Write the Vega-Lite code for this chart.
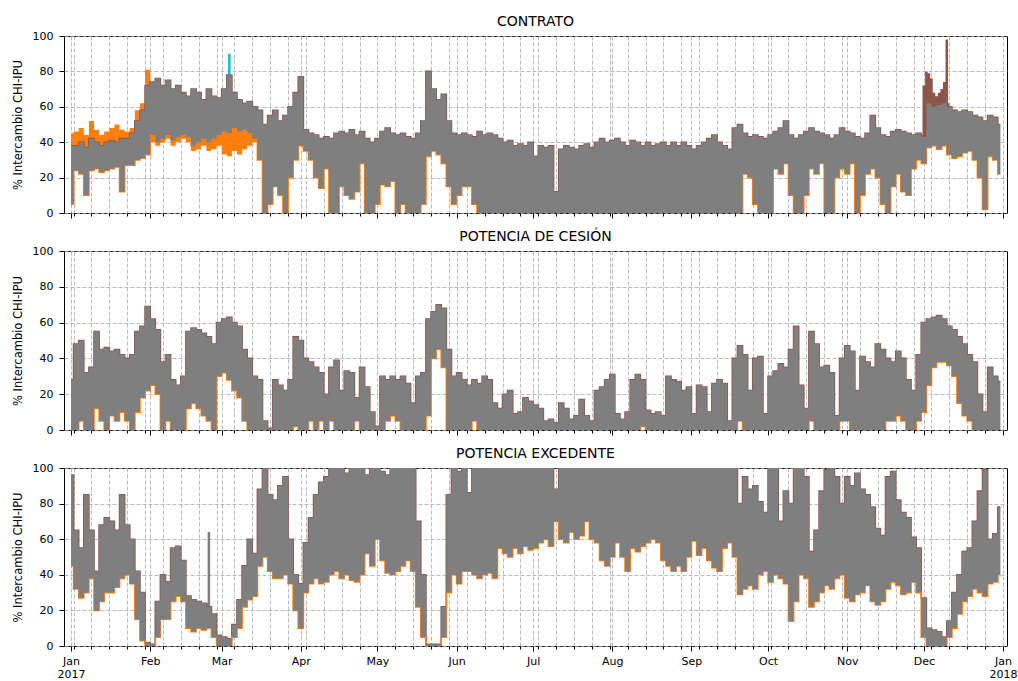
{
"$schema": "https://vega.github.io/schema/vega-lite/v6.json",
"background": "white",
"padding": {"left": 11, "top": 14, "right": 5, "bottom": 5},
"spacing": 10,
"config": {
 "font": "DejaVu Sans",
 "view": {"stroke": "#000", "strokeWidth": 1},
 "axis": {"labelFont": "DejaVu Sans", "labelFontSize": 11, "labelColor": "#000", "tickColor": "#000", "domain": false, "grid": true, "gridColor": "#a8a8a8", "gridDash": [4, 2], "gridWidth": 0.8, "titleFont": "DejaVu Sans", "titleFontSize": 11.5, "titleFontWeight": "normal", "titleColor": "#000"},
 "title": {"font": "DejaVu Sans", "fontSize": 14, "fontWeight": "normal", "color": "#000", "offset": 1}
},
"datasets": {
"main": [
{"d":"2017-01-01","a":5,"b":38,"c":0,"e":28,"f":45,"g":96},
{"d":"2017-01-03","a":24,"b":38,"c":0,"e":48,"f":32,"g":65},
{"d":"2017-01-05","a":22,"b":40,"c":5,"e":50,"f":27,"g":55},
{"d":"2017-01-07","a":10,"b":37,"c":0,"e":32,"f":30,"g":85},
{"d":"2017-01-09","a":24,"b":42,"c":0,"e":35,"f":38,"g":65},
{"d":"2017-01-11","a":25,"b":40,"c":12,"e":55,"f":20,"g":42},
{"d":"2017-01-13","a":23,"b":38,"c":5,"e":45,"f":25,"g":68},
{"d":"2017-01-15","a":24,"b":40,"c":0,"e":46,"f":30,"g":72},
{"d":"2017-01-17","a":25,"b":41,"c":8,"e":44,"f":30,"g":70},
{"d":"2017-01-19","a":26,"b":40,"c":5,"e":45,"f":33,"g":65},
{"d":"2017-01-21","a":12,"b":42,"c":10,"e":42,"f":38,"g":85},
{"d":"2017-01-23","a":27,"b":42,"c":5,"e":40,"f":40,"g":68},
{"d":"2017-01-25","a":27,"b":45,"c":0,"e":42,"f":35,"g":60},
{"d":"2017-01-27","a":30,"b":52,"c":10,"e":55,"f":15,"g":42},
{"d":"2017-01-29","a":31,"b":58,"c":18,"e":58,"f":3,"g":30},
{"d":"2017-01-31","a":33,"b":72,"c":22,"e":69,"f":0,"g":2},
{"d":"2017-02-02","a":44,"b":74,"c":25,"e":62,"f":0,"g":1},
{"d":"2017-02-04","a":40,"b":76,"c":20,"e":56,"f":5,"g":25},
{"d":"2017-02-06","a":42,"b":72,"c":0,"e":38,"f":15,"g":40},
{"d":"2017-02-08","a":44,"b":75,"c":5,"e":42,"f":15,"g":36},
{"d":"2017-02-10","a":41,"b":70,"c":0,"e":28,"f":25,"g":55},
{"d":"2017-02-12","a":43,"b":72,"c":0,"e":25,"f":28,"g":56},
{"d":"2017-02-14","a":44,"b":68,"c":0,"e":30,"f":25,"g":48},
{"d":"2017-02-16","a":43,"b":66,"c":12,"e":55,"f":10,"g":28},
{"d":"2017-02-18","a":38,"b":70,"c":15,"e":57,"f":8,"g":26},
{"d":"2017-02-20","a":40,"b":68,"c":12,"e":56,"f":10,"g":25},
{"d":"2017-02-22","a":42,"b":64,"c":8,"e":54,"f":9,"g":24},
{"d":"2017-02-24","a":40,"b":70,"c":5,"e":52,"f":10,"g":22},
{"d":"2017-02-26","a":42,"b":66,"c":0,"e":48,"f":5,"g":18},
{"d":"2017-02-28","a":44,"b":65,"c":30,"e":60,"f":0,"g":6},
{"d":"2017-03-02","a":46,"b":70,"c":32,"e":62,"f":0,"g":5},
{"d":"2017-03-04","a":45,"b":78,"c":28,"e":63,"f":0,"g":4},
{"d":"2017-03-06","a":48,"b":68,"c":22,"e":60,"f":5,"g":12},
{"d":"2017-03-08","a":46,"b":64,"c":18,"e":58,"f":10,"g":26},
{"d":"2017-03-10","a":47,"b":62,"c":5,"e":45,"f":22,"g":45},
{"d":"2017-03-12","a":45,"b":63,"c":0,"e":40,"f":26,"g":60},
{"d":"2017-03-14","a":42,"b":60,"c":0,"e":30,"f":28,"g":52},
{"d":"2017-03-16","a":30,"b":58,"c":0,"e":28,"f":45,"g":88},
{"d":"2017-03-18","a":0,"b":50,"c":0,"e":5,"f":50,"g":100},
{"d":"2017-03-20","a":5,"b":55,"c":0,"e":1,"f":42,"g":85},
{"d":"2017-03-22","a":15,"b":58,"c":0,"e":28,"f":38,"g":82},
{"d":"2017-03-24","a":10,"b":52,"c":0,"e":25,"f":38,"g":90},
{"d":"2017-03-26","a":0,"b":55,"c":0,"e":22,"f":40,"g":95},
{"d":"2017-03-28","a":20,"b":60,"c":0,"e":28,"f":35,"g":60},
{"d":"2017-03-30","a":30,"b":68,"c":2,"e":52,"f":20,"g":40},
{"d":"2017-04-01","a":38,"b":77,"c":0,"e":50,"f":10,"g":35},
{"d":"2017-04-03","a":35,"b":47,"c":0,"e":40,"f":30,"g":58},
{"d":"2017-04-05","a":30,"b":45,"c":5,"e":38,"f":35,"g":72},
{"d":"2017-04-07","a":20,"b":44,"c":0,"e":35,"f":38,"g":85},
{"d":"2017-04-09","a":14,"b":42,"c":5,"e":32,"f":35,"g":92},
{"d":"2017-04-11","a":25,"b":43,"c":0,"e":20,"f":36,"g":95},
{"d":"2017-04-13","a":0,"b":42,"c":5,"e":35,"f":40,"g":100},
{"d":"2017-04-15","a":0,"b":45,"c":0,"e":39,"f":42,"g":100},
{"d":"2017-04-17","a":15,"b":46,"c":0,"e":22,"f":38,"g":100},
{"d":"2017-04-19","a":10,"b":45,"c":0,"e":33,"f":40,"g":97},
{"d":"2017-04-21","a":8,"b":47,"c":0,"e":32,"f":37,"g":100},
{"d":"2017-04-23","a":12,"b":44,"c":5,"e":18,"f":36,"g":100},
{"d":"2017-04-25","a":28,"b":46,"c":0,"e":35,"f":40,"g":100},
{"d":"2017-04-27","a":0,"b":42,"c":0,"e":24,"f":52,"g":96},
{"d":"2017-04-29","a":0,"b":40,"c":0,"e":10,"f":45,"g":100},
{"d":"2017-05-01","a":5,"b":42,"c":0,"e":2,"f":60,"g":100},
{"d":"2017-05-03","a":16,"b":46,"c":0,"e":30,"f":48,"g":98},
{"d":"2017-05-05","a":15,"b":48,"c":5,"e":28,"f":41,"g":96},
{"d":"2017-05-07","a":18,"b":45,"c":8,"e":30,"f":40,"g":100},
{"d":"2017-05-09","a":0,"b":44,"c":5,"e":28,"f":42,"g":100},
{"d":"2017-05-11","a":5,"b":45,"c":0,"e":30,"f":45,"g":100},
{"d":"2017-05-13","a":0,"b":43,"c":0,"e":26,"f":48,"g":100},
{"d":"2017-05-15","a":0,"b":42,"c":0,"e":15,"f":42,"g":100},
{"d":"2017-05-17","a":0,"b":45,"c":0,"e":30,"f":22,"g":70},
{"d":"2017-05-19","a":5,"b":52,"c":0,"e":32,"f":5,"g":40},
{"d":"2017-05-21","a":32,"b":80,"c":8,"e":62,"f":0,"g":1},
{"d":"2017-05-23","a":35,"b":70,"c":40,"e":66,"f":0,"g":1},
{"d":"2017-05-25","a":33,"b":64,"c":45,"e":70,"f":0,"g":1},
{"d":"2017-05-27","a":28,"b":67,"c":35,"e":68,"f":5,"g":22},
{"d":"2017-05-29","a":15,"b":52,"c":0,"e":45,"f":30,"g":85},
{"d":"2017-05-31","a":5,"b":45,"c":0,"e":30,"f":40,"g":100},
{"d":"2017-06-02","a":10,"b":44,"c":0,"e":32,"f":35,"g":98},
{"d":"2017-06-04","a":15,"b":45,"c":0,"e":28,"f":42,"g":100},
{"d":"2017-06-06","a":15,"b":44,"c":0,"e":25,"f":42,"g":86},
{"d":"2017-06-08","a":5,"b":43,"c":5,"e":28,"f":40,"g":100},
{"d":"2017-06-10","a":0,"b":46,"c":0,"e":26,"f":38,"g":100},
{"d":"2017-06-12","a":0,"b":44,"c":0,"e":30,"f":40,"g":100},
{"d":"2017-06-14","a":0,"b":45,"c":0,"e":28,"f":41,"g":100},
{"d":"2017-06-16","a":0,"b":44,"c":0,"e":15,"f":38,"g":100},
{"d":"2017-06-18","a":0,"b":42,"c":0,"e":12,"f":55,"g":100},
{"d":"2017-06-20","a":0,"b":40,"c":0,"e":20,"f":52,"g":100},
{"d":"2017-06-22","a":0,"b":41,"c":0,"e":22,"f":50,"g":100},
{"d":"2017-06-24","a":0,"b":38,"c":0,"e":9,"f":55,"g":100},
{"d":"2017-06-26","a":0,"b":39,"c":0,"e":10,"f":52,"g":100},
{"d":"2017-06-28","a":0,"b":38,"c":0,"e":18,"f":56,"g":100},
{"d":"2017-06-30","a":0,"b":40,"c":0,"e":16,"f":54,"g":100},
{"d":"2017-07-02","a":0,"b":32,"c":0,"e":14,"f":55,"g":100},
{"d":"2017-07-04","a":0,"b":38,"c":0,"e":12,"f":58,"g":100},
{"d":"2017-07-06","a":0,"b":37,"c":0,"e":5,"f":60,"g":100},
{"d":"2017-07-08","a":0,"b":38,"c":0,"e":6,"f":56,"g":100},
{"d":"2017-07-10","a":0,"b":12,"c":0,"e":4,"f":70,"g":88},
{"d":"2017-07-12","a":0,"b":36,"c":0,"e":15,"f":60,"g":100},
{"d":"2017-07-14","a":0,"b":38,"c":0,"e":12,"f":58,"g":100},
{"d":"2017-07-16","a":0,"b":37,"c":0,"e":6,"f":64,"g":100},
{"d":"2017-07-18","a":0,"b":36,"c":0,"e":8,"f":60,"g":100},
{"d":"2017-07-20","a":0,"b":38,"c":0,"e":17,"f":62,"g":100},
{"d":"2017-07-22","a":0,"b":39,"c":0,"e":8,"f":70,"g":100},
{"d":"2017-07-24","a":0,"b":37,"c":0,"e":5,"f":60,"g":100},
{"d":"2017-07-26","a":0,"b":40,"c":0,"e":22,"f":58,"g":100},
{"d":"2017-07-28","a":0,"b":42,"c":0,"e":24,"f":48,"g":100},
{"d":"2017-07-30","a":0,"b":40,"c":0,"e":28,"f":45,"g":100},
{"d":"2017-08-01","a":0,"b":41,"c":0,"e":31,"f":50,"g":100},
{"d":"2017-08-03","a":0,"b":42,"c":0,"e":9,"f":58,"g":100},
{"d":"2017-08-05","a":0,"b":40,"c":0,"e":6,"f":50,"g":100},
{"d":"2017-08-07","a":0,"b":38,"c":0,"e":10,"f":42,"g":100},
{"d":"2017-08-09","a":0,"b":41,"c":0,"e":28,"f":55,"g":100},
{"d":"2017-08-11","a":0,"b":40,"c":0,"e":31,"f":53,"g":100},
{"d":"2017-08-13","a":0,"b":38,"c":2,"e":28,"f":56,"g":100},
{"d":"2017-08-15","a":0,"b":40,"c":0,"e":11,"f":58,"g":100},
{"d":"2017-08-17","a":0,"b":38,"c":0,"e":9,"f":60,"g":100},
{"d":"2017-08-19","a":0,"b":39,"c":0,"e":10,"f":58,"g":100},
{"d":"2017-08-21","a":0,"b":40,"c":0,"e":8,"f":48,"g":100},
{"d":"2017-08-23","a":0,"b":38,"c":0,"e":30,"f":45,"g":100},
{"d":"2017-08-25","a":0,"b":40,"c":0,"e":28,"f":42,"g":100},
{"d":"2017-08-27","a":0,"b":38,"c":0,"e":27,"f":45,"g":100},
{"d":"2017-08-29","a":0,"b":40,"c":0,"e":22,"f":42,"g":100},
{"d":"2017-08-31","a":0,"b":38,"c":0,"e":24,"f":50,"g":100},
{"d":"2017-09-02","a":0,"b":36,"c":0,"e":9,"f":59,"g":100},
{"d":"2017-09-04","a":0,"b":38,"c":0,"e":25,"f":51,"g":100},
{"d":"2017-09-06","a":0,"b":40,"c":0,"e":24,"f":55,"g":100},
{"d":"2017-09-08","a":0,"b":42,"c":0,"e":10,"f":48,"g":100},
{"d":"2017-09-10","a":0,"b":44,"c":0,"e":26,"f":44,"g":100},
{"d":"2017-09-12","a":0,"b":40,"c":0,"e":28,"f":42,"g":100},
{"d":"2017-09-14","a":0,"b":38,"c":0,"e":26,"f":55,"g":100},
{"d":"2017-09-16","a":0,"b":36,"c":0,"e":5,"f":58,"g":100},
{"d":"2017-09-18","a":0,"b":48,"c":0,"e":40,"f":50,"g":100},
{"d":"2017-09-20","a":0,"b":50,"c":5,"e":47,"f":29,"g":80},
{"d":"2017-09-22","a":22,"b":45,"c":0,"e":42,"f":32,"g":95},
{"d":"2017-09-24","a":20,"b":43,"c":0,"e":22,"f":34,"g":88},
{"d":"2017-09-26","a":5,"b":44,"c":0,"e":40,"f":32,"g":90},
{"d":"2017-09-28","a":0,"b":43,"c":0,"e":41,"f":40,"g":81},
{"d":"2017-09-30","a":0,"b":42,"c":0,"e":9,"f":42,"g":75},
{"d":"2017-10-02","a":0,"b":44,"c":0,"e":30,"f":36,"g":100},
{"d":"2017-10-04","a":25,"b":46,"c":0,"e":33,"f":40,"g":100},
{"d":"2017-10-06","a":22,"b":48,"c":0,"e":37,"f":38,"g":70},
{"d":"2017-10-08","a":28,"b":52,"c":0,"e":35,"f":35,"g":87},
{"d":"2017-10-10","a":10,"b":44,"c":0,"e":45,"f":14,"g":80},
{"d":"2017-10-12","a":0,"b":42,"c":0,"e":58,"f":25,"g":100},
{"d":"2017-10-14","a":0,"b":44,"c":0,"e":25,"f":40,"g":100},
{"d":"2017-10-16","a":10,"b":46,"c":0,"e":12,"f":38,"g":95},
{"d":"2017-10-18","a":25,"b":48,"c":5,"e":55,"f":22,"g":53},
{"d":"2017-10-20","a":22,"b":46,"c":0,"e":48,"f":25,"g":65},
{"d":"2017-10-22","a":28,"b":45,"c":0,"e":35,"f":30,"g":87},
{"d":"2017-10-24","a":0,"b":44,"c":0,"e":36,"f":34,"g":99},
{"d":"2017-10-26","a":0,"b":42,"c":0,"e":32,"f":32,"g":100},
{"d":"2017-10-28","a":20,"b":44,"c":0,"e":8,"f":38,"g":95},
{"d":"2017-10-30","a":25,"b":48,"c":5,"e":40,"f":40,"g":80},
{"d":"2017-11-01","a":22,"b":46,"c":5,"e":47,"f":27,"g":95},
{"d":"2017-11-03","a":28,"b":45,"c":0,"e":44,"f":25,"g":90},
{"d":"2017-11-05","a":0,"b":43,"c":0,"e":22,"f":29,"g":97},
{"d":"2017-11-07","a":10,"b":42,"c":0,"e":41,"f":30,"g":88},
{"d":"2017-11-09","a":22,"b":45,"c":0,"e":38,"f":34,"g":85},
{"d":"2017-11-11","a":25,"b":55,"c":0,"e":35,"f":25,"g":78},
{"d":"2017-11-13","a":20,"b":48,"c":0,"e":48,"f":23,"g":66},
{"d":"2017-11-15","a":5,"b":44,"c":0,"e":45,"f":25,"g":62},
{"d":"2017-11-17","a":0,"b":43,"c":5,"e":40,"f":32,"g":95},
{"d":"2017-11-19","a":15,"b":46,"c":5,"e":38,"f":36,"g":98},
{"d":"2017-11-21","a":22,"b":47,"c":8,"e":44,"f":34,"g":82},
{"d":"2017-11-23","a":12,"b":46,"c":5,"e":40,"f":29,"g":75},
{"d":"2017-11-25","a":10,"b":45,"c":0,"e":28,"f":30,"g":72},
{"d":"2017-11-27","a":25,"b":44,"c":0,"e":22,"f":36,"g":61},
{"d":"2017-11-29","a":30,"b":45,"c":5,"e":42,"f":30,"g":55},
{"d":"2017-12-01","a":28,"b":43,"c":10,"e":60,"f":5,"g":27},
{"d":"2017-12-03","a":37,"b":62,"c":25,"e":62,"f":0,"g":10},
{"d":"2017-12-05","a":38,"b":60,"c":35,"e":63,"f":0,"g":9},
{"d":"2017-12-07","a":36,"b":61,"c":38,"e":64,"f":0,"g":8},
{"d":"2017-12-09","a":38,"b":62,"c":38,"e":62,"f":0,"g":5},
{"d":"2017-12-11","a":33,"b":60,"c":36,"e":58,"f":5,"g":14},
{"d":"2017-12-13","a":31,"b":58,"c":30,"e":56,"f":10,"g":30},
{"d":"2017-12-15","a":32,"b":57,"c":15,"e":52,"f":18,"g":40},
{"d":"2017-12-17","a":34,"b":58,"c":8,"e":48,"f":25,"g":53},
{"d":"2017-12-19","a":35,"b":57,"c":5,"e":42,"f":28,"g":55},
{"d":"2017-12-21","a":30,"b":55,"c":0,"e":38,"f":32,"g":70},
{"d":"2017-12-23","a":20,"b":54,"c":0,"e":20,"f":30,"g":87},
{"d":"2017-12-25","a":2,"b":52,"c":0,"e":10,"f":28,"g":99},
{"d":"2017-12-27","a":32,"b":55,"c":0,"e":35,"f":35,"g":60},
{"d":"2017-12-29","a":30,"b":54,"c":0,"e":30,"f":36,"g":63},
{"d":"2017-12-31","a":22,"b":50,"c":0,"e":27,"f":40,"g":78}
],
"extra": [
{"p":1,"s":"o","d":"2017-01-01","lo":5,"hi":45},
{"p":1,"s":"o","d":"2017-01-03","lo":24,"hi":46},
{"p":1,"s":"o","d":"2017-01-05","lo":22,"hi":48},
{"p":1,"s":"o","d":"2017-01-07","lo":10,"hi":44},
{"p":1,"s":"o","d":"2017-01-09","lo":24,"hi":52},
{"p":1,"s":"o","d":"2017-01-11","lo":25,"hi":47},
{"p":1,"s":"o","d":"2017-01-13","lo":23,"hi":44},
{"p":1,"s":"o","d":"2017-01-15","lo":24,"hi":46},
{"p":1,"s":"o","d":"2017-01-17","lo":25,"hi":48},
{"p":1,"s":"o","d":"2017-01-19","lo":26,"hi":50},
{"p":1,"s":"o","d":"2017-01-21","lo":12,"hi":47},
{"p":1,"s":"o","d":"2017-01-23","lo":27,"hi":46},
{"p":1,"s":"o","d":"2017-01-25","lo":27,"hi":48},
{"p":1,"s":"o","d":"2017-01-27","lo":30,"hi":58},
{"p":1,"s":"o","d":"2017-01-29","lo":31,"hi":62},
{"p":1,"s":"o","d":"2017-01-31","lo":33,"hi":81},
{"p":1,"s":"o","d":"2017-02-02","lo":40,"hi":74},
{"p":1,"s":"o","d":"2017-02-04","lo":38,"hi":76},
{"p":1,"s":"o","d":"2017-02-06","lo":40,"hi":72},
{"p":1,"s":"o","d":"2017-02-08","lo":42,"hi":75},
{"p":1,"s":"o","d":"2017-02-10","lo":38,"hi":70},
{"p":1,"s":"o","d":"2017-02-12","lo":40,"hi":72},
{"p":1,"s":"o","d":"2017-02-14","lo":42,"hi":68},
{"p":1,"s":"o","d":"2017-02-16","lo":40,"hi":66},
{"p":1,"s":"o","d":"2017-02-18","lo":35,"hi":70},
{"p":1,"s":"o","d":"2017-02-20","lo":36,"hi":68},
{"p":1,"s":"o","d":"2017-02-22","lo":38,"hi":64},
{"p":1,"s":"o","d":"2017-02-24","lo":35,"hi":70},
{"p":1,"s":"o","d":"2017-02-26","lo":36,"hi":66},
{"p":1,"s":"o","d":"2017-02-28","lo":38,"hi":65},
{"p":1,"s":"o","d":"2017-03-02","lo":33,"hi":70},
{"p":1,"s":"o","d":"2017-03-04","lo":32,"hi":78},
{"p":1,"s":"o","d":"2017-03-06","lo":35,"hi":68},
{"p":1,"s":"o","d":"2017-03-08","lo":33,"hi":64},
{"p":1,"s":"o","d":"2017-03-10","lo":36,"hi":62},
{"p":1,"s":"o","d":"2017-03-12","lo":38,"hi":63},
{"p":1,"s":"o","d":"2017-03-14","lo":40,"hi":60},
{"p":1,"s":"o","d":"2017-03-16","lo":30,"hi":58},
{"p":1,"s":"c","d":"2017-03-03","lo":50,"hi":70},
{"p":1,"s":"c","d":"2017-03-04","lo":50,"hi":90},
{"p":1,"s":"c","d":"2017-03-05","lo":50,"hi":68},
{"p":1,"s":"b","d":"2017-11-30","lo":40,"hi":44},
{"p":1,"s":"b","d":"2017-12-01","lo":40,"hi":72},
{"p":1,"s":"b","d":"2017-12-02","lo":40,"hi":80},
{"p":1,"s":"b","d":"2017-12-03","lo":40,"hi":79},
{"p":1,"s":"b","d":"2017-12-04","lo":40,"hi":76},
{"p":1,"s":"b","d":"2017-12-05","lo":40,"hi":68},
{"p":1,"s":"b","d":"2017-12-06","lo":40,"hi":66},
{"p":1,"s":"b","d":"2017-12-07","lo":40,"hi":68},
{"p":1,"s":"b","d":"2017-12-08","lo":40,"hi":70},
{"p":1,"s":"b","d":"2017-12-09","lo":40,"hi":74},
{"p":1,"s":"b","d":"2017-12-10","lo":40,"hi":98},
{"p":1,"s":"b","d":"2017-12-11","lo":40,"hi":62},
{"p":3,"s":"g","d":"2017-02-23","lo":10,"hi":24},
{"p":3,"s":"g","d":"2017-02-24","lo":10,"hi":64},
{"p":3,"s":"g","d":"2017-02-25","lo":10,"hi":22}
]
},
"vconcat": [
{
 "title": "CONTRATO",
 "width": 943, "height": 177,
 "encoding": {"x": {"field": "d", "type": "temporal", "title": null, "scale": {"type": "utc", "domain": [{"year":2016,"month":12,"date":29,"hours":6,"utc":true},{"year":2018,"month":1,"date":2,"hours":14,"utc":true}]}, "axis": {"labels": false, "tickSize": {"condition": {"test": "utcdate(datum.value) == 1", "value": 5}, "value": 3}, "values": [{"year":2017,"month":1,"date":1,"utc":true},{"year":2017,"month":1,"date":2,"utc":true},{"year":2017,"month":1,"date":9,"utc":true},{"year":2017,"month":1,"date":16,"utc":true},{"year":2017,"month":1,"date":23,"utc":true},{"year":2017,"month":1,"date":30,"utc":true},{"year":2017,"month":2,"date":1,"utc":true},{"year":2017,"month":2,"date":6,"utc":true},{"year":2017,"month":2,"date":13,"utc":true},{"year":2017,"month":2,"date":20,"utc":true},{"year":2017,"month":2,"date":27,"utc":true},{"year":2017,"month":3,"date":1,"utc":true},{"year":2017,"month":3,"date":6,"utc":true},{"year":2017,"month":3,"date":13,"utc":true},{"year":2017,"month":3,"date":20,"utc":true},{"year":2017,"month":3,"date":27,"utc":true},{"year":2017,"month":4,"date":1,"utc":true},{"year":2017,"month":4,"date":3,"utc":true},{"year":2017,"month":4,"date":10,"utc":true},{"year":2017,"month":4,"date":17,"utc":true},{"year":2017,"month":4,"date":24,"utc":true},{"year":2017,"month":5,"date":1,"utc":true},{"year":2017,"month":5,"date":8,"utc":true},{"year":2017,"month":5,"date":15,"utc":true},{"year":2017,"month":5,"date":22,"utc":true},{"year":2017,"month":5,"date":29,"utc":true},{"year":2017,"month":6,"date":1,"utc":true},{"year":2017,"month":6,"date":5,"utc":true},{"year":2017,"month":6,"date":12,"utc":true},{"year":2017,"month":6,"date":19,"utc":true},{"year":2017,"month":6,"date":26,"utc":true},{"year":2017,"month":7,"date":1,"utc":true},{"year":2017,"month":7,"date":3,"utc":true},{"year":2017,"month":7,"date":10,"utc":true},{"year":2017,"month":7,"date":17,"utc":true},{"year":2017,"month":7,"date":24,"utc":true},{"year":2017,"month":7,"date":31,"utc":true},{"year":2017,"month":8,"date":1,"utc":true},{"year":2017,"month":8,"date":7,"utc":true},{"year":2017,"month":8,"date":14,"utc":true},{"year":2017,"month":8,"date":21,"utc":true},{"year":2017,"month":8,"date":28,"utc":true},{"year":2017,"month":9,"date":1,"utc":true},{"year":2017,"month":9,"date":4,"utc":true},{"year":2017,"month":9,"date":11,"utc":true},{"year":2017,"month":9,"date":18,"utc":true},{"year":2017,"month":9,"date":25,"utc":true},{"year":2017,"month":10,"date":1,"utc":true},{"year":2017,"month":10,"date":2,"utc":true},{"year":2017,"month":10,"date":9,"utc":true},{"year":2017,"month":10,"date":16,"utc":true},{"year":2017,"month":10,"date":23,"utc":true},{"year":2017,"month":10,"date":30,"utc":true},{"year":2017,"month":11,"date":1,"utc":true},{"year":2017,"month":11,"date":6,"utc":true},{"year":2017,"month":11,"date":13,"utc":true},{"year":2017,"month":11,"date":20,"utc":true},{"year":2017,"month":11,"date":27,"utc":true},{"year":2017,"month":12,"date":1,"utc":true},{"year":2017,"month":12,"date":4,"utc":true},{"year":2017,"month":12,"date":11,"utc":true},{"year":2017,"month":12,"date":18,"utc":true},{"year":2017,"month":12,"date":25,"utc":true},{"year":2018,"month":1,"date":1,"utc":true}]}}},
 "layer": [
  {"data": {"name": "extra"}, "transform": [{"filter": "datum.p == 1"}], "mark": {"type": "area", "interpolate": "step", "clip": true},
   "encoding": {"y": {"field": "lo", "type": "quantitative", "stack": null, "title": "% Intercambio CHI-IPU", "scale": {"domain": [0, 100], "nice": false}, "axis": {"values": [0,20,40,60,80,100], "tickSize": 5, "labelPadding": 6, "titlePadding": 9}}, "y2": {"field": "hi"}, "color": {"field": "s", "type": "nominal", "legend": null, "scale": {"domain": ["o","b","c","g"], "range": ["#ff7f0e","#8c564b","#17becf","#7f7f7f"]}}}},
  {"data": {"name": "main"}, "mark": {"type": "line", "interpolate": "step", "color": "#8c564b", "strokeWidth": 1.6, "clip": true},
   "encoding": {"y": {"field": "b", "type": "quantitative", "title": "% Intercambio CHI-IPU", "scale": {"domain": [0, 100], "nice": false}, "axis": {"values": [0,20,40,60,80,100], "tickSize": 5, "labelPadding": 6, "titlePadding": 9}}}},
  {"data": {"name": "main"}, "mark": {"type": "line", "interpolate": "step", "color": "#ff7f0e", "strokeWidth": 1.6, "clip": true},
   "encoding": {"y": {"field": "a", "type": "quantitative", "title": "% Intercambio CHI-IPU", "scale": {"domain": [0, 100], "nice": false}, "axis": {"values": [0,20,40,60,80,100], "tickSize": 5, "labelPadding": 6, "titlePadding": 9}}}},
  {"data": {"name": "main"}, "mark": {"type": "area", "interpolate": "step", "color": "#7f7f7f", "clip": true},
   "encoding": {"y": {"field": "a", "type": "quantitative", "stack": null, "title": "% Intercambio CHI-IPU", "scale": {"domain": [0, 100], "nice": false}, "axis": {"values": [0,20,40,60,80,100], "tickSize": 5, "labelPadding": 6, "titlePadding": 9}}, "y2": {"field": "b"}}}
 ]
},
{
 "title": "POTENCIA DE CESIÓN",
 "width": 943, "height": 179,
 "encoding": {"x": {"field": "d", "type": "temporal", "title": null, "scale": {"type": "utc", "domain": [{"year":2016,"month":12,"date":29,"hours":6,"utc":true},{"year":2018,"month":1,"date":2,"hours":14,"utc":true}]}, "axis": {"labels": false, "tickSize": {"condition": {"test": "utcdate(datum.value) == 1", "value": 5}, "value": 3}, "values": [{"year":2017,"month":1,"date":1,"utc":true},{"year":2017,"month":1,"date":2,"utc":true},{"year":2017,"month":1,"date":9,"utc":true},{"year":2017,"month":1,"date":16,"utc":true},{"year":2017,"month":1,"date":23,"utc":true},{"year":2017,"month":1,"date":30,"utc":true},{"year":2017,"month":2,"date":1,"utc":true},{"year":2017,"month":2,"date":6,"utc":true},{"year":2017,"month":2,"date":13,"utc":true},{"year":2017,"month":2,"date":20,"utc":true},{"year":2017,"month":2,"date":27,"utc":true},{"year":2017,"month":3,"date":1,"utc":true},{"year":2017,"month":3,"date":6,"utc":true},{"year":2017,"month":3,"date":13,"utc":true},{"year":2017,"month":3,"date":20,"utc":true},{"year":2017,"month":3,"date":27,"utc":true},{"year":2017,"month":4,"date":1,"utc":true},{"year":2017,"month":4,"date":3,"utc":true},{"year":2017,"month":4,"date":10,"utc":true},{"year":2017,"month":4,"date":17,"utc":true},{"year":2017,"month":4,"date":24,"utc":true},{"year":2017,"month":5,"date":1,"utc":true},{"year":2017,"month":5,"date":8,"utc":true},{"year":2017,"month":5,"date":15,"utc":true},{"year":2017,"month":5,"date":22,"utc":true},{"year":2017,"month":5,"date":29,"utc":true},{"year":2017,"month":6,"date":1,"utc":true},{"year":2017,"month":6,"date":5,"utc":true},{"year":2017,"month":6,"date":12,"utc":true},{"year":2017,"month":6,"date":19,"utc":true},{"year":2017,"month":6,"date":26,"utc":true},{"year":2017,"month":7,"date":1,"utc":true},{"year":2017,"month":7,"date":3,"utc":true},{"year":2017,"month":7,"date":10,"utc":true},{"year":2017,"month":7,"date":17,"utc":true},{"year":2017,"month":7,"date":24,"utc":true},{"year":2017,"month":7,"date":31,"utc":true},{"year":2017,"month":8,"date":1,"utc":true},{"year":2017,"month":8,"date":7,"utc":true},{"year":2017,"month":8,"date":14,"utc":true},{"year":2017,"month":8,"date":21,"utc":true},{"year":2017,"month":8,"date":28,"utc":true},{"year":2017,"month":9,"date":1,"utc":true},{"year":2017,"month":9,"date":4,"utc":true},{"year":2017,"month":9,"date":11,"utc":true},{"year":2017,"month":9,"date":18,"utc":true},{"year":2017,"month":9,"date":25,"utc":true},{"year":2017,"month":10,"date":1,"utc":true},{"year":2017,"month":10,"date":2,"utc":true},{"year":2017,"month":10,"date":9,"utc":true},{"year":2017,"month":10,"date":16,"utc":true},{"year":2017,"month":10,"date":23,"utc":true},{"year":2017,"month":10,"date":30,"utc":true},{"year":2017,"month":11,"date":1,"utc":true},{"year":2017,"month":11,"date":6,"utc":true},{"year":2017,"month":11,"date":13,"utc":true},{"year":2017,"month":11,"date":20,"utc":true},{"year":2017,"month":11,"date":27,"utc":true},{"year":2017,"month":12,"date":1,"utc":true},{"year":2017,"month":12,"date":4,"utc":true},{"year":2017,"month":12,"date":11,"utc":true},{"year":2017,"month":12,"date":18,"utc":true},{"year":2017,"month":12,"date":25,"utc":true},{"year":2018,"month":1,"date":1,"utc":true}]}}},
 "layer": [
  {"data": {"name": "main"}, "mark": {"type": "line", "interpolate": "step", "color": "#8c564b", "strokeWidth": 1.6, "clip": true},
   "encoding": {"y": {"field": "e", "type": "quantitative", "title": "% Intercambio CHI-IPU", "scale": {"domain": [0, 100], "nice": false}, "axis": {"values": [0,20,40,60,80,100], "tickSize": 5, "labelPadding": 6, "titlePadding": 9}}}},
  {"data": {"name": "main"}, "mark": {"type": "line", "interpolate": "step", "color": "#ff7f0e", "strokeWidth": 1.6, "clip": true},
   "encoding": {"y": {"field": "c", "type": "quantitative", "title": "% Intercambio CHI-IPU", "scale": {"domain": [0, 100], "nice": false}, "axis": {"values": [0,20,40,60,80,100], "tickSize": 5, "labelPadding": 6, "titlePadding": 9}}}},
  {"data": {"name": "main"}, "mark": {"type": "area", "interpolate": "step", "color": "#7f7f7f", "clip": true},
   "encoding": {"y": {"field": "c", "type": "quantitative", "stack": null, "title": "% Intercambio CHI-IPU", "scale": {"domain": [0, 100], "nice": false}, "axis": {"values": [0,20,40,60,80,100], "tickSize": 5, "labelPadding": 6, "titlePadding": 9}}, "y2": {"field": "e"}}}
 ]
},
{
 "title": "POTENCIA EXCEDENTE",
 "width": 943, "height": 178,
 "encoding": {"x": {"field": "d", "type": "temporal", "title": null, "scale": {"type": "utc", "domain": [{"year":2016,"month":12,"date":29,"hours":6,"utc":true},{"year":2018,"month":1,"date":2,"hours":14,"utc":true}]}, "axis": {"labelExpr": "utcdate(datum.value) == 1 ? (utcmonth(datum.value) == 0 ? [utcFormat(datum.value, '%b'), utcFormat(datum.value, '%Y')] : utcFormat(datum.value, '%b')) : ''", "labelOverlap": false, "labelFlush": false, "labelBound": false, "labelPadding": 4, "labelLineHeight": 13, "tickSize": {"condition": {"test": "utcdate(datum.value) == 1", "value": 5}, "value": 3}, "values": [{"year":2017,"month":1,"date":1,"utc":true},{"year":2017,"month":1,"date":2,"utc":true},{"year":2017,"month":1,"date":9,"utc":true},{"year":2017,"month":1,"date":16,"utc":true},{"year":2017,"month":1,"date":23,"utc":true},{"year":2017,"month":1,"date":30,"utc":true},{"year":2017,"month":2,"date":1,"utc":true},{"year":2017,"month":2,"date":6,"utc":true},{"year":2017,"month":2,"date":13,"utc":true},{"year":2017,"month":2,"date":20,"utc":true},{"year":2017,"month":2,"date":27,"utc":true},{"year":2017,"month":3,"date":1,"utc":true},{"year":2017,"month":3,"date":6,"utc":true},{"year":2017,"month":3,"date":13,"utc":true},{"year":2017,"month":3,"date":20,"utc":true},{"year":2017,"month":3,"date":27,"utc":true},{"year":2017,"month":4,"date":1,"utc":true},{"year":2017,"month":4,"date":3,"utc":true},{"year":2017,"month":4,"date":10,"utc":true},{"year":2017,"month":4,"date":17,"utc":true},{"year":2017,"month":4,"date":24,"utc":true},{"year":2017,"month":5,"date":1,"utc":true},{"year":2017,"month":5,"date":8,"utc":true},{"year":2017,"month":5,"date":15,"utc":true},{"year":2017,"month":5,"date":22,"utc":true},{"year":2017,"month":5,"date":29,"utc":true},{"year":2017,"month":6,"date":1,"utc":true},{"year":2017,"month":6,"date":5,"utc":true},{"year":2017,"month":6,"date":12,"utc":true},{"year":2017,"month":6,"date":19,"utc":true},{"year":2017,"month":6,"date":26,"utc":true},{"year":2017,"month":7,"date":1,"utc":true},{"year":2017,"month":7,"date":3,"utc":true},{"year":2017,"month":7,"date":10,"utc":true},{"year":2017,"month":7,"date":17,"utc":true},{"year":2017,"month":7,"date":24,"utc":true},{"year":2017,"month":7,"date":31,"utc":true},{"year":2017,"month":8,"date":1,"utc":true},{"year":2017,"month":8,"date":7,"utc":true},{"year":2017,"month":8,"date":14,"utc":true},{"year":2017,"month":8,"date":21,"utc":true},{"year":2017,"month":8,"date":28,"utc":true},{"year":2017,"month":9,"date":1,"utc":true},{"year":2017,"month":9,"date":4,"utc":true},{"year":2017,"month":9,"date":11,"utc":true},{"year":2017,"month":9,"date":18,"utc":true},{"year":2017,"month":9,"date":25,"utc":true},{"year":2017,"month":10,"date":1,"utc":true},{"year":2017,"month":10,"date":2,"utc":true},{"year":2017,"month":10,"date":9,"utc":true},{"year":2017,"month":10,"date":16,"utc":true},{"year":2017,"month":10,"date":23,"utc":true},{"year":2017,"month":10,"date":30,"utc":true},{"year":2017,"month":11,"date":1,"utc":true},{"year":2017,"month":11,"date":6,"utc":true},{"year":2017,"month":11,"date":13,"utc":true},{"year":2017,"month":11,"date":20,"utc":true},{"year":2017,"month":11,"date":27,"utc":true},{"year":2017,"month":12,"date":1,"utc":true},{"year":2017,"month":12,"date":4,"utc":true},{"year":2017,"month":12,"date":11,"utc":true},{"year":2017,"month":12,"date":18,"utc":true},{"year":2017,"month":12,"date":25,"utc":true},{"year":2018,"month":1,"date":1,"utc":true}]}}},
 "layer": [
  {"data": {"name": "extra"}, "transform": [{"filter": "datum.p == 3"}], "mark": {"type": "area", "interpolate": "step", "clip": true},
   "encoding": {"y": {"field": "lo", "type": "quantitative", "stack": null, "title": "% Intercambio CHI-IPU", "scale": {"domain": [0, 100], "nice": false}, "axis": {"values": [0,20,40,60,80,100], "tickSize": 5, "labelPadding": 6, "titlePadding": 9}}, "y2": {"field": "hi"}, "color": {"field": "s", "type": "nominal", "legend": null, "scale": {"domain": ["o","b","c","g"], "range": ["#ff7f0e","#8c564b","#17becf","#7f7f7f"]}}}},
  {"data": {"name": "main"}, "mark": {"type": "line", "interpolate": "step", "color": "#8c564b", "strokeWidth": 1.6, "clip": true},
   "encoding": {"y": {"field": "g", "type": "quantitative", "title": "% Intercambio CHI-IPU", "scale": {"domain": [0, 100], "nice": false}, "axis": {"values": [0,20,40,60,80,100], "tickSize": 5, "labelPadding": 6, "titlePadding": 9}}}},
  {"data": {"name": "main"}, "mark": {"type": "line", "interpolate": "step", "color": "#ff7f0e", "strokeWidth": 1.6, "clip": true},
   "encoding": {"y": {"field": "f", "type": "quantitative", "title": "% Intercambio CHI-IPU", "scale": {"domain": [0, 100], "nice": false}, "axis": {"values": [0,20,40,60,80,100], "tickSize": 5, "labelPadding": 6, "titlePadding": 9}}}},
  {"data": {"name": "main"}, "mark": {"type": "area", "interpolate": "step", "color": "#7f7f7f", "clip": true},
   "encoding": {"y": {"field": "f", "type": "quantitative", "stack": null, "title": "% Intercambio CHI-IPU", "scale": {"domain": [0, 100], "nice": false}, "axis": {"values": [0,20,40,60,80,100], "tickSize": 5, "labelPadding": 6, "titlePadding": 9}}, "y2": {"field": "g"}}}
 ]
}
]
}
